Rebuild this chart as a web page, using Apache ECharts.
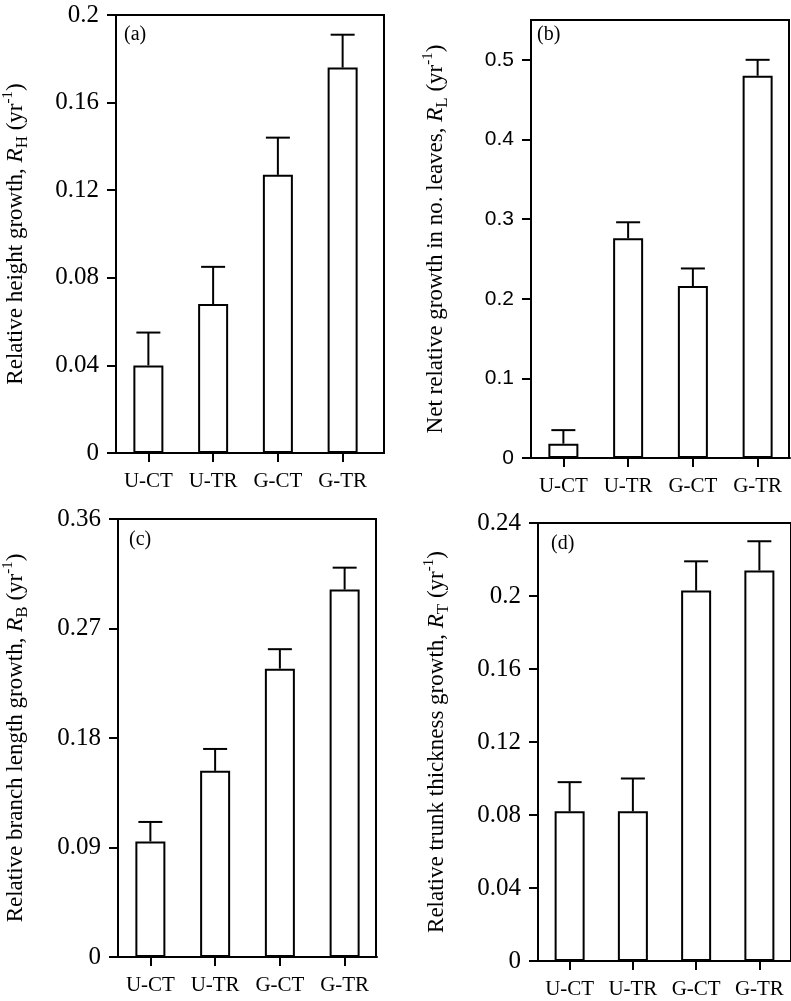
<!DOCTYPE html>
<html>
<head>
<meta charset="utf-8">
<script src="https://cdn.jsdelivr.net/npm/echarts@6/dist/echarts.min.js"></script>
<style>
html,body{margin:0;padding:0;background:#fff;}
#chart{width:791px;height:1001px;}
</style>
</head>
<body>
<div id="chart"></div>
<script>
// ---- data ----
const categories = ['U-CT', 'U-TR', 'G-CT', 'G-TR'];

const meanA = [0.040, 0.068, 0.127, 0.176];
const errA  = [0.015, 0.017, 0.017, 0.015];

const meanB = [0.018, 0.276, 0.216, 0.480];
const errB  = [0.017, 0.020, 0.022, 0.020];

const meanC = [0.095, 0.153, 0.237, 0.302];
const errC  = [0.016, 0.018, 0.016, 0.018];

const meanD = [0.082, 0.082, 0.203, 0.214];
const errD  = [0.016, 0.018, 0.016, 0.016];

const ticksA = [0, 0.04, 0.08, 0.12, 0.16, 0.2];
const ticksB = [0, 0.1, 0.2, 0.3, 0.4, 0.5];
const ticksC = [0, 0.09, 0.18, 0.27, 0.36];
const ticksD = [0, 0.04, 0.08, 0.12, 0.16, 0.2, 0.24];

const panelLabels = ['(a)', '(b)', '(c)', '(d)'];
const yTitles = [
  ['Relative height growth, ', 'R', 'H'],
  ['Net relative growth in no. leaves, ', 'R', 'L'],
  ['Relative branch length growth, ', 'R', 'B'],
  ['Relative trunk thickness growth, ', 'R', 'T']
];

// ---- layout ----
const SERIF = '"Liberation Serif", "Times New Roman", serif';
const SANS = '"Liberation Sans", Arial, sans-serif';

const panels = [
  {mean: meanA, err: errA, ticks: ticksA, max: 0.2, interval: 0.04,
   frame: {left: 116, top: 15, width: 268, height: 438}, bars: {left: 116, top: 15, width: 259, height: 438},
   labelFont: SERIF, labelSize: 25, nameGap: 85, lab: {left: 124, top: 25}},
  {mean: meanB, err: errB, ticks: ticksB, max: 0.55, interval: 0.1,
   frame: {left: 531, top: 20, width: 258, height: 438}, bars: {left: 531, top: 20, width: 259, height: 438},
   labelFont: SANS, labelSize: 21, nameGap: 80, lab: {left: 537, top: 25}},
  {mean: meanC, err: errC, ticks: ticksC, max: 0.36, interval: 0.09,
   frame: {left: 118, top: 519, width: 258, height: 438}, bars: {left: 118, top: 519, width: 259, height: 438},
   labelFont: SERIF, labelSize: 25, nameGap: 87, lab: {left: 129, top: 530}},
  {mean: meanD, err: errD, ticks: ticksD, max: 0.24, interval: 0.04,
   frame: {left: 538, top: 523, width: 272, height: 438}, bars: {left: 538, top: 523, width: 260, height: 438},
   labelFont: SERIF, labelSize: 25, nameGap: 86, lab: {left: 551, top: 534}}
];

const grid = [], xAxis = [], yAxis = [], series = [], title = [];

panels.forEach((p, i) => {
  // frame grid
  grid.push(Object.assign({show: true, borderColor: '#000', borderWidth: 2, backgroundColor: 'transparent'}, p.frame));
  xAxis.push({type: 'value', gridIndex: i, show: false, min: 0, max: 1});
  yAxis.push({type: 'value', gridIndex: i, show: false, min: 0, max: 1});
});

panels.forEach((p, i) => {
  const gi = 4 + i;
  grid.push(Object.assign({show: false}, p.bars));
  xAxis.push({
    type: 'category', gridIndex: gi, data: categories,
    axisLine: {show: true, lineStyle: {color: '#000', width: 2}},
    axisTick: {show: true, alignWithLabel: true, length: 9, lineStyle: {color: '#000', width: 2}},
    axisLabel: {color: '#000', fontFamily: SERIF, fontSize: 21, margin: 18, interval: 0},
    splitLine: {show: false}
  });
  const t = yTitles[i];
  yAxis.push({
    type: 'value', gridIndex: gi, min: 0, max: p.max, interval: p.interval,
    name: '{a|' + t[0] + '}{i|' + t[1] + '}{sub|' + t[2] + '}{a| (yr}{sup|-1}{a|)}',
    nameLocation: 'middle', nameGap: p.nameGap, nameRotate: 90,
    nameTextStyle: {
      color: '#000', fontFamily: SERIF, fontSize: 23,
      rich: {
        a: {fontFamily: SERIF, fontSize: 23, color: '#000', lineHeight: 30},
        i: {fontFamily: SERIF, fontSize: 23, fontStyle: 'italic', color: '#000', lineHeight: 30},
        sub: {fontFamily: SERIF, fontSize: 17, color: '#000', verticalAlign: 'bottom', lineHeight: 30},
        sup: {fontFamily: SERIF, fontSize: 15, color: '#000', verticalAlign: 'top', lineHeight: 30}
      }
    },
    axisLine: {show: true, lineStyle: {color: '#000', width: 2}},
    axisTick: {show: true, length: 9, lineStyle: {color: '#000', width: 2}, customValues: p.ticks},
    axisLabel: {color: '#000', fontFamily: p.labelFont, fontSize: p.labelSize, margin: 17, customValues: p.ticks},
    splitLine: {show: false}
  });
  series.push({
    type: 'bar', xAxisIndex: gi, yAxisIndex: gi, data: p.mean, barWidth: 30,
    itemStyle: {color: '#fff', borderColor: '#000', borderWidth: 2},
    silent: true, z: 2
  });
  series.push({
    type: 'custom', xAxisIndex: gi, yAxisIndex: gi, z: 3, silent: true,
    data: p.mean.map((m, k) => [k, m, m + p.err[k]]),
    renderItem: function (params, api) {
      const base = api.coord([api.value(0), api.value(1)]);
      const top = api.coord([api.value(0), api.value(2)]);
      const half = 12;
      return {
        type: 'group',
        children: [
          {type: 'line', shape: {x1: base[0], y1: base[1], x2: top[0], y2: top[1]}, style: {stroke: '#000', lineWidth: 2}},
          {type: 'line', shape: {x1: top[0] - half, y1: top[1], x2: top[0] + half, y2: top[1]}, style: {stroke: '#000', lineWidth: 2}}
        ]
      };
    }
  });
  title.push({text: panelLabels[i], left: p.lab.left, top: p.lab.top, padding: 0,
    textStyle: {fontFamily: SERIF, fontSize: 20, fontWeight: 'normal', color: '#000'}});
});

const chart = echarts.init(document.getElementById('chart'), null, {renderer: 'canvas'});
chart.setOption({
  animation: false,
  backgroundColor: '#fff',
  title: title,
  grid: grid,
  xAxis: xAxis,
  yAxis: yAxis,
  series: series
});
</script>
</body>
</html>
